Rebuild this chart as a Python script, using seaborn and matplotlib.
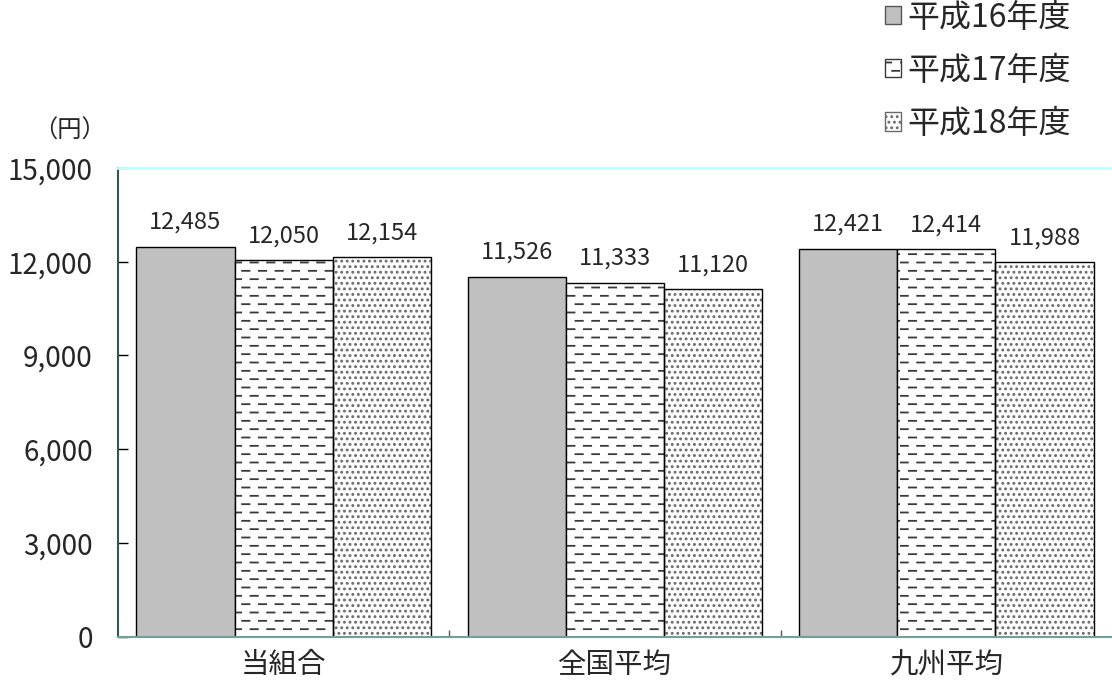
import warnings
warnings.filterwarnings("ignore")
import numpy as np
import pandas as pd
import matplotlib
matplotlib.use("Agg")
import matplotlib.pyplot as plt
import matplotlib.hatch as mhatch
from matplotlib.path import Path
from matplotlib.patches import Patch, Rectangle
from matplotlib.ticker import FuncFormatter, FixedLocator
import seaborn as sns

# ---- data ----
categories = ["当組合", "全国平均", "九州平均"]
years = ["平成16年度", "平成17年度", "平成18年度"]
h16 = [12485, 11526, 12421]
h17 = [12050, 11333, 12414]
h18 = [12154, 11120, 11988]
y_ticks = [0, 3000, 6000, 9000, 12000, 15000]
unit_label = "（円）"


# ---- custom dashed hatch ----
class DashHatch(mhatch.HatchPatternBase):
    def __init__(self, hatch, density):
        self.num_rows = hatch.count('=') * density
        self.num_dash = max(self.num_rows // 2, 1)
        self.num_vertices = self.num_rows * self.num_dash * 2

    def set_vertices_and_codes(self, vertices, codes):
        n, m = self.num_rows, self.num_dash
        k = 0
        for i in range(n):
            y = (i + 0.5) / n
            off = 0.0 if i % 2 == 0 else 0.5 / m
            for j in range(m):
                x0 = off + j / m + 0.03 / m
                x1 = x0 + 0.44 / m
                vertices[k] = (x0, y)
                vertices[k + 1] = (x1, y)
                codes[k] = Path.MOVETO
                codes[k + 1] = Path.LINETO
                k += 2


mhatch._hatch_types.append(DashHatch)

sns.set_style("white")
plt.rcParams['font.family'] = ['Noto Sans CJK JP', 'DejaVu Sans']
plt.rcParams['hatch.linewidth'] = 1.3

df = pd.DataFrame({
    "cat": np.repeat(categories, 3),
    "year": years * 3,
    "val": [v for trip in zip(h16, h17, h18) for v in trip],
})

fig = plt.figure(figsize=(11.12, 6.9), dpi=100)
ax = fig.add_axes([118 / 1112, 1 - 636.5 / 690, 1 - 118 / 1112, (636.5 - 168) / 690])

fills = ["#C0C0C0", "white", "white"]
sns.barplot(data=df, x="cat", y="val", hue="year", order=categories,
            hue_order=years, palette=fills, saturation=1, width=0.89,
            edgecolor="black", linewidth=1.0, legend=False, ax=ax, errorbar=None)

hatches = [None, "==", "..."]
hatch_cols = [None, "#3a3a3a", "#6a6a6a"]
for ci, cont in enumerate(ax.containers):
    if hatches[ci] is None:
        continue
    for p in cont:
        p.set_hatch(hatches[ci])
        p.set_edgecolor(hatch_cols[ci])
        p.set_linewidth(0)
        ax.add_patch(Rectangle(p.get_xy(), p.get_width(), p.get_height(),
                               fill=False, edgecolor="black", linewidth=1.0,
                               zorder=p.get_zorder() + 0.1))

for cont in ax.containers:
    ax.bar_label(cont, labels=[f"{v:,.0f}" for v in cont.datavalues],
                 padding=9, fontsize=17)

ax.set_ylim(0, 15000)
ax.set_xlim(-0.5, 2.5)
ax.set_yticks(y_ticks)
ax.yaxis.set_major_formatter(FuncFormatter(lambda v, p: f"{v:,.0f}"))
ax.tick_params(axis="y", direction="in", length=7, width=1, color="black",
               labelsize=20, pad=18, left=True)
ax.set_xticks(range(len(categories)))
ax.set_xticklabels(categories, fontsize=20.5)
ax.tick_params(axis="x", which="major", length=0, pad=10)
ax.xaxis.set_minor_locator(FixedLocator([0.5, 1.5]))
ax.tick_params(axis="x", which="minor", direction="in", length=5, width=1,
               color="#555555", bottom=True)
ax.set_xlabel("")
ax.set_ylabel("")

ax.spines["right"].set_visible(False)
ax.spines["top"].set_color("#BFFFFF")
ax.spines["top"].set_linewidth(2)
ax.spines["left"].set_color("#2F5757")
ax.spines["left"].set_linewidth(1.5)
ax.spines["bottom"].set_color("#6F9F9F")
ax.spines["bottom"].set_linewidth(1.5)

fig.text(70 / 1112, 1 - 131 / 690, unit_label, ha="center", va="center", fontsize=17.5)

handles = [Patch(facecolor=fills[i], edgecolor=(hatch_cols[i] or "#555555"),
                 hatch=hatches[i], linewidth=1) for i in range(3)]
fig.legend(handles, years, loc="upper left", bbox_to_anchor=(883 / 1112, 1.0),
           frameon=False, fontsize=23, handlelength=0.5, handleheight=0.5,
           handletextpad=0.2, labelspacing=0.66, borderaxespad=0, borderpad=0.05)

fig.savefig("out.png", dpi=100)
